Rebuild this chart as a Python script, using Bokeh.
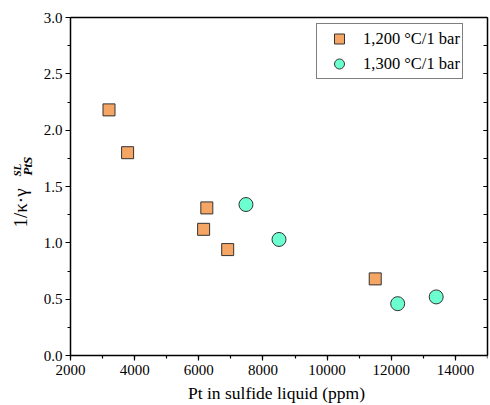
from math import pi
from bokeh.plotting import figure
from bokeh.models import (Range1d, SingleIntervalTicker, LinearAxis, NumeralTickFormatter,
                          CustomJSTickFormatter, Label)
from bokeh.embed import file_html
from bokeh.resources import INLINE

# data
pt_1200 = [3200, 3780, 6250, 6150, 6900, 11500]
val_1200 = [2.18, 1.80, 1.31, 1.12, 0.94, 0.68]
pt_1300 = [7470, 8500, 12200, 13400]
val_1300 = [1.34, 1.03, 0.46, 0.52]
label_1200 = "1,200 \u00b0C/1 bar"
label_1300 = "1,300 \u00b0C/1 bar"
x_title = "Pt in sulfide liquid (ppm)"
x_min, x_max = 2000, 15000
y_min, y_max = 0.0, 3.0

FONT = "Liberation Serif"

# layout (pixels): the frame covers the whole canvas so that the axis texts
# and the composed y title (drawn inside the frame) are not clipped
W, H = 490, 405
LEFT_PAD, RIGHT_PAD = 70, 3
TOP_PAD, BOTTOM_PAD = 17, 50
frame_w = W - RIGHT_PAD
x_start = x_min - LEFT_PAD / (frame_w - LEFT_PAD) * (x_max - x_min)
y_unit = (H - TOP_PAD - BOTTOM_PAD) / (y_max - y_min)
y_start = y_min - BOTTOM_PAD / y_unit
y_end = y_max + TOP_PAD / y_unit

p = figure(width=W, height=H, output_backend="svg", toolbar_location=None,
           x_range=Range1d(x_start, x_max), y_range=Range1d(y_start, y_end),
           min_border_left=0, min_border_right=RIGHT_PAD, min_border_top=0, min_border_bottom=0)
p.background_fill_color = "white"
p.border_fill_color = "white"
p.grid.visible = False
p.outline_line_color = None

p.xaxis.ticker = SingleIntervalTicker(interval=2000, num_minor_ticks=2)
p.yaxis.ticker = SingleIntervalTicker(interval=0.5, num_minor_ticks=2)
p.yaxis.formatter = NumeralTickFormatter(format="0.0")
p.xaxis.bounds = (x_min, x_max)
p.yaxis.bounds = (y_min, y_max)
p.yaxis.fixed_location = x_min
p.xaxis.fixed_location = y_min
for ax in (p.xaxis[0], p.yaxis[0]):
    ax.axis_line_width = 1.5
    ax.axis_line_color = "black"
    ax.major_tick_line_color = "black"
    ax.minor_tick_line_color = "black"
    ax.major_tick_line_width = 1.2
    ax.minor_tick_line_width = 1.2
    ax.major_tick_in = 0
    ax.major_tick_out = 5
    ax.minor_tick_in = 0
    ax.minor_tick_out = 3
    ax.major_label_text_font = FONT
    ax.major_label_text_font_size = "15px"
    ax.major_label_text_color = "black"
p.xaxis.major_label_standoff = 4
p.yaxis.major_label_standoff = 3

right = LinearAxis(ticker=SingleIntervalTicker(interval=0.5, num_minor_ticks=2),
                   formatter=CustomJSTickFormatter(code="return ''"), bounds=(y_min, y_max))
right.axis_line_width = 1.5
right.major_tick_in = 4
right.major_tick_out = 0
right.minor_tick_in = 4
right.minor_tick_out = 0
right.major_label_standoff = 0
right.major_label_text_font_size = "1px"
p.add_layout(right, "right")

top = LinearAxis(bounds=(x_min, x_max), fixed_location=y_max,
                 formatter=CustomJSTickFormatter(code="return ''"))
top.axis_line_width = 1.5
top.major_tick_in = 0
top.major_tick_out = 0
top.minor_tick_in = 0
top.minor_tick_out = 0
top.major_label_standoff = 0
top.major_label_text_font_size = "1px"
p.add_layout(top, "above")

p.scatter(pt_1200, val_1200, marker="square", size=12, fill_color="#F5A664",
          line_color="#333333", line_width=1, legend_label=label_1200)
p.scatter(pt_1300, val_1300, marker="circle", size=14, fill_color="#6CFFD0",
          line_color="#333333", line_width=1, legend_label=label_1300)

lg = p.legend[0]
lg.location = (316, 326)
lg.border_line_color = "black"
lg.border_line_width = 1
lg.padding = 2
lg.spacing = 0
lg.margin = 0
lg.glyph_width = 40
lg.glyph_height = 25
lg.label_height = 20
lg.label_standoff = 4
lg.label_text_font = FONT
lg.label_text_font_size = "16.5px"
lg.label_text_color = "black"
lg.background_fill_alpha = 1

# x-axis title (screen units, relative to the frame's bottom-left)
p.add_layout(Label(x=276, y=13, x_units="screen", y_units="screen",
                   text=x_title, text_font=FONT, text_font_size="17.5px",
                   text_align="center", text_baseline="middle", text_color="black"))

# y-axis title composed of labels
p.add_layout(Label(x=19.5, y=178, x_units="screen", y_units="screen", angle=pi / 2,
                   text="1/\u03ba\u00b7\u03b3", text_font=FONT, text_font_size="19px",
                   text_align="left", text_baseline="middle", text_color="black"))
p.add_layout(Label(x=16.5, y=229, x_units="screen", y_units="screen", angle=pi / 2,
                   text="SL", text_font=FONT, text_font_size="11px", text_font_style="bold italic",
                   text_align="left", text_baseline="middle", text_color="black"))
p.add_layout(Label(x=26.5, y=230, x_units="screen", y_units="screen", angle=pi / 2,
                   text="PtS", text_font=FONT, text_font_size="13px", text_font_style="bold italic",
                   text_align="left", text_baseline="middle", text_color="black"))

open("out.html", "w").write(file_html(p, INLINE))
